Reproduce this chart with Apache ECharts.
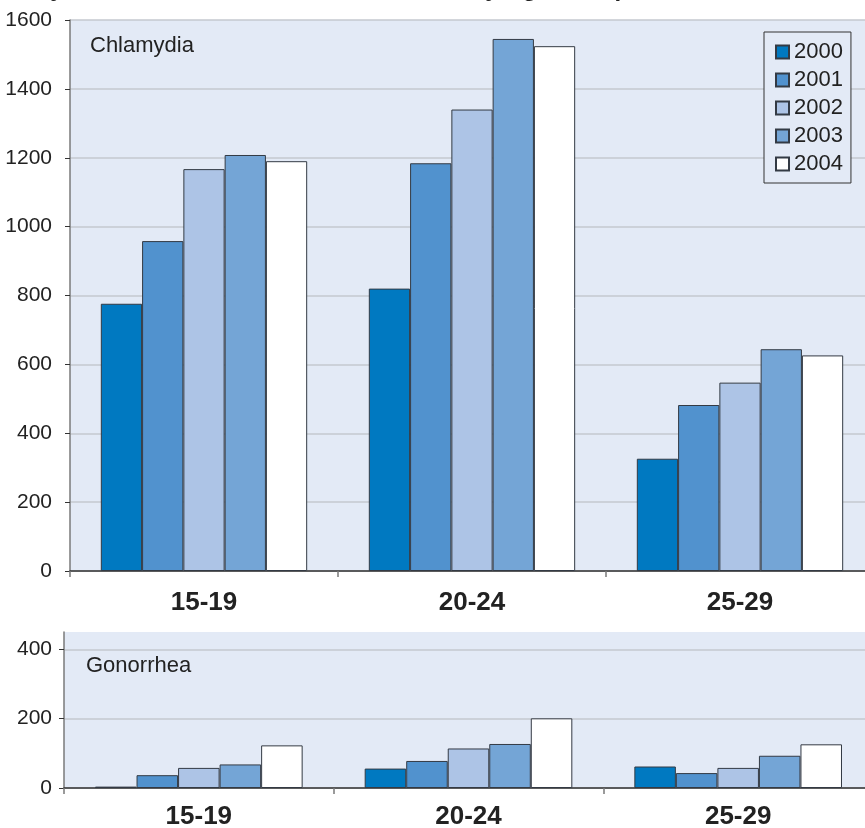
<!DOCTYPE html>
<html>
<head>
<meta charset="utf-8">
<script src="https://cdn.jsdelivr.net/npm/echarts@6/dist/echarts.min.js"></script>
<style>
  html, body { margin: 0; padding: 0; background: #ffffff; }
  #chart { width: 865px; height: 828px; }
</style>
</head>
<body>
<div id="chart"></div>
<script>
// Age groups shown on both panels
const ageGroups = ['15-19', '20-24', '25-29'];
const years = ['2000', '2001', '2002', '2003', '2004'];

// Chlamydia cases per age group, one array per year
const chlamydia2000 = [776, 820, 326];
const chlamydia2001 = [958, 1184, 482];
const chlamydia2002 = [1167, 1340, 547];
const chlamydia2003 = [1208, 1545, 644];
const chlamydia2004 = [1190, 1524, 626];

// Gonorrhea cases per age group, one array per year
const gonorrhea2000 = [4, 56, 62];
const gonorrhea2001 = [37, 78, 43];
const gonorrhea2002 = [58, 114, 58];
const gonorrhea2003 = [68, 127, 93];
const gonorrhea2004 = [123, 201, 126];

// Axis ticks
const chlamydiaTicks = [0, 200, 400, 600, 800, 1000, 1200, 1400, 1600];
const gonorrheaTicks = [0, 200, 400];

const yearColors = ['#0079c1', '#5192ce', '#adc4e6', '#74a5d6', '#ffffff'];
const plotBg = '#e3eaf6';
const fontFamily = "'Liberation Sans', Arial, sans-serif";

const chlamydiaSeries = [chlamydia2000, chlamydia2001, chlamydia2002, chlamydia2003, chlamydia2004];
const gonorrheaSeries = [gonorrhea2000, gonorrhea2001, gonorrhea2002, gonorrhea2003, gonorrhea2004];

function barSeries(values, idx, axisIdx) {
  return {
    type: 'bar',
    name: years[idx],
    xAxisIndex: axisIdx,
    yAxisIndex: axisIdx,
    data: values,
    barGap: '0%',
    barCategoryGap: '23%',
    itemStyle: {
      color: yearColors[idx],
      borderColor: '#333a44',
      borderWidth: 1
    },
    emphasis: { disabled: true }
  };
}

function valueAxis(grid, max, ticks, margin) {
  return {
    type: 'value',
    gridIndex: grid,
    min: 0,
    max: max,
    interval: 200,
    axisLine: { show: true, lineStyle: { color: '#7a7a7a', width: 1.5 } },
    axisTick: { show: true, length: 5, customValues: ticks, lineStyle: { color: '#333333' } },
    axisLabel: {
      customValues: ticks,
      formatter: (v) => String(v),
      color: '#222222',
      fontSize: 21,
      fontFamily: fontFamily,
      margin: margin
    },
    splitLine: { show: true, lineStyle: { color: '#c4c8cf', width: 1.5 } }
  };
}

function categoryAxis(grid, margin) {
  return {
    type: 'category',
    gridIndex: grid,
    data: ageGroups,
    axisLine: { show: true, lineStyle: { color: '#333333', width: 1.5 } },
    axisTick: { show: true, length: 6, alignWithLabel: false, lineStyle: { color: '#7a7a7a', width: 1.5 } },
    axisLabel: {
      color: '#222222',
      fontSize: 26,
      fontWeight: 'bold',
      fontFamily: fontFamily,
      margin: margin
    }
  };
}

const chart = echarts.init(document.getElementById('chart'), null, { renderer: 'canvas' });

const series = [];
chlamydiaSeries.forEach((v, i) => series.push(barSeries(v, i, 0)));
gonorrheaSeries.forEach((v, i) => series.push(barSeries(v, i, 1)));

chart.setOption({
  animation: false,
  backgroundColor: '#ffffff',
  textStyle: { fontFamily: fontFamily },
  grid: [
    { left: 70, width: 804, top: 20, height: 551, outerBoundsMode: 'none', containLabel: false,
      show: true, backgroundColor: plotBg, borderWidth: 0 },
    { left: 64, width: 809, top: 632, height: 156, outerBoundsMode: 'none', containLabel: false,
      show: true, backgroundColor: plotBg, borderWidth: 0 }
  ],
  xAxis: [categoryAxis(0, 19), categoryAxis(1, 16)],
  yAxis: [valueAxis(0, 1600, chlamydiaTicks, 18), valueAxis(1, 450, gonorrheaTicks, 12)],
  legend: {
    data: years,
    orient: 'vertical',
    left: 764,
    top: 32,
    padding: [9, 8, 8, 11],
    itemWidth: 13,
    itemHeight: 13,
    itemGap: 6,
    icon: 'rect',
    backgroundColor: plotBg,
    borderColor: '#333333',
    borderWidth: 1,
    textStyle: { fontSize: 22, lineHeight: 22, color: '#222222', fontFamily: fontFamily },
    selectedMode: false
  },
  graphic: [
    {
      type: 'text',
      left: -23,
      top: -23,
      style: {
        text: 'Chlamydia and Gonorrhea Cases, Females by Age Group, 2000-2004',
        font: 'bold 24px ' + fontFamily,
        fill: '#222222'
      }
    },
    {
      type: 'text',
      left: 90,
      top: 35,
      style: { text: 'Chlamydia', font: '22px ' + fontFamily, fill: '#222222' }
    },
    {
      type: 'text',
      left: 86,
      top: 655,
      style: { text: 'Gonorrhea', font: '22px ' + fontFamily, fill: '#222222' }
    }
  ],
  series: series
});
</script>
</body>
</html>
